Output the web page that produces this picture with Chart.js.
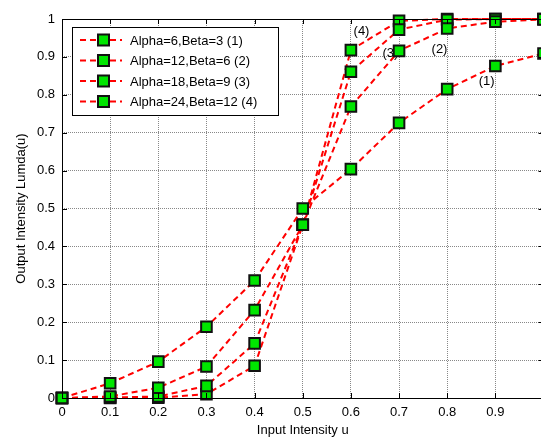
<!DOCTYPE html>
<html>
<head>
<meta charset="utf-8">
<script src="https://cdn.jsdelivr.net/npm/chart.js@4.4.0/dist/chart.umd.min.js"></script>
<style>
  html, body { margin: 0; padding: 0; background: #fff; overflow: hidden; }
  #wrap { width: 553px; height: 437px; }
</style>
</head>
<body>
<div id="wrap"><canvas id="myChart" width="553" height="437"></canvas></div>
<script>
// input intensity u
const inputU = [0, 0.1, 0.2, 0.3, 0.4, 0.5, 0.6, 0.7, 0.8, 0.9, 1.0];

// output intensity for each alpha/beta pair
const series1 = [0, 0.039, 0.096, 0.188, 0.31, 0.5, 0.604, 0.726, 0.815, 0.876, 0.909];
const series2 = [0, 0.004, 0.027, 0.083, 0.232, 0.457, 0.769, 0.916, 0.975, 0.993, 0.999];
const series3 = [0, 0.001, 0.004, 0.032, 0.144, 0.457, 0.861, 0.972, 0.998, 1.0, 1.0];
const series4 = [0, 0.0, 0.001, 0.01, 0.085, 0.457, 0.918, 0.995, 1.0, 1.0, 1.0];

const seriesNames = [
  "Alpha=6,Beta=3 (1)",
  "Alpha=12,Beta=6 (2)",
  "Alpha=18,Beta=9 (3)",
  "Alpha=24,Beta=12 (4)",
];

// curve tags "(n)" placed at data coordinates
const tagText = ["(1)", "(2)", "(3)", "(4)"];
const tagX = [0.882, 0.784, 0.682, 0.622];
const tagY = [0.834, 0.921, 0.908, 0.968];

const FONT = "'Liberation Sans', Arial, sans-serif";
const lineRed = "#ff0000";
const markGreen = "#00e600";

const toPoints = (ys) => ys.map((y, i) => ({ x: inputU[i], y: y }));

const makeSet = (name, ys) => ({
  label: name,
  data: toPoints(ys),
  borderColor: lineRed,
  borderWidth: 2,
  borderDash: [6, 4],
  backgroundColor: markGreen,
  pointStyle: "rect",
  pointRadius: 7.5,
  pointBorderWidth: 2,
  pointBorderColor: "#111",
  pointBackgroundColor: markGreen,
  tension: 0,
  clip: false,
});

// axes box, inside ticks, tags and legend
const decorPlugin = {
  id: "decor",
  beforeDatasetsDraw(chart) {
    const { ctx, scales } = chart;
    ctx.save();
    ctx.fillStyle = "#000";
    ctx.font = "13px " + FONT;
    ctx.textAlign = "center";
    ctx.textBaseline = "middle";
    tagText.forEach((t, i) => {
      ctx.fillText(t, scales.x.getPixelForValue(tagX[i]), scales.y.getPixelForValue(tagY[i]));
    });
    ctx.restore();
  },
  afterDatasetsDraw(chart) {
    const { ctx, chartArea: a, scales } = chart;
    ctx.save();
    ctx.strokeStyle = "#000";
    ctx.lineWidth = 1;
    ctx.strokeRect(a.left + 0.5, a.top + 0.5, a.right - a.left, a.bottom - a.top);
    const tl = 5;
    ctx.beginPath();
    scales.x.ticks.forEach((t) => {
      const px = Math.round(scales.x.getPixelForValue(t.value)) + 0.5;
      ctx.moveTo(px, a.bottom); ctx.lineTo(px, a.bottom - tl);
      ctx.moveTo(px, a.top); ctx.lineTo(px, a.top + tl);
    });
    scales.y.ticks.forEach((t) => {
      const py = Math.round(scales.y.getPixelForValue(t.value)) + 0.5;
      ctx.moveTo(a.left, py); ctx.lineTo(a.left + tl, py);
      ctx.moveTo(a.right, py); ctx.lineTo(a.right - tl, py);
    });
    ctx.stroke();

    // legend box
    const lx = 72, ly = 27, lw = 206, lh = 88;
    ctx.fillStyle = "#fff";
    ctx.fillRect(lx, ly, lw, lh);
    ctx.strokeRect(lx + 0.5, ly + 0.5, lw, lh);
    ctx.font = "13px " + FONT;
    ctx.textAlign = "left";
    ctx.textBaseline = "middle";
    seriesNames.forEach((name, i) => {
      const y = ly + 13 + i * 20.5;
      ctx.strokeStyle = lineRed;
      ctx.lineWidth = 2;
      ctx.setLineDash([6, 4]);
      ctx.beginPath();
      ctx.moveTo(lx + 8, y); ctx.lineTo(lx + 50, y);
      ctx.stroke();
      ctx.setLineDash([]);
      ctx.fillStyle = markGreen;
      ctx.strokeStyle = "#111";
      ctx.fillRect(lx + 26, y - 5.5, 11, 11);
      ctx.strokeRect(lx + 26, y - 5.5, 11, 11);
      ctx.fillStyle = "#000";
      ctx.fillText(name, lx + 58, y + 1);
    });
    ctx.restore();
  },
};

const fmt = (v) => String(Math.round(v * 10) / 10);

const config = {
  type: "line",
  data: {
    datasets: [
      makeSet(seriesNames[0], series1),
      makeSet(seriesNames[1], series2),
      makeSet(seriesNames[2], series3),
      makeSet(seriesNames[3], series4),
    ],
  },
  options: {
    responsive: false,
    animation: false,
    layout: { padding: { top: 19, right: 0, left: 0, bottom: 0 } },
    plugins: {
      legend: { display: false },
      tooltip: { enabled: false },
    },
    scales: {
      x: {
        type: "linear",
        min: 0,
        max: 1,
        afterFit: (scale) => { scale.height = 39; },
        ticks: {
          stepSize: 0.1,
          padding: 7,
          color: "#000",
          font: { family: FONT, size: 13 },
          maxRotation: 0,
          autoSkip: false,
          callback: (v) => (v >= 1 ? "" : fmt(v)),
        },
        grid: { color: "#888", drawTicks: false, lineWidth: 1 },
        border: { display: false, dash: [1, 1] },
        title: {
          display: true,
          text: "Input Intensity u",
          color: "#000",
          font: { family: FONT, size: 13, lineHeight: 1 },
          padding: { top: 0, bottom: 0 },
        },
      },
      y: {
        min: 0,
        max: 1,
        afterFit: (scale) => { scale.width = 62; },
        ticks: {
          stepSize: 0.1,
          padding: 7,
          color: "#000",
          font: { family: FONT, size: 13 },
          callback: (v) => fmt(v),
        },
        grid: { color: "#888", drawTicks: false, lineWidth: 1 },
        border: { display: false, dash: [1, 1] },
        title: {
          display: true,
          text: "Output Intensity Lumda(u)",
          color: "#000",
          font: { family: FONT, size: 13 },
          padding: { top: 14, bottom: 0 },
        },
      },
    },
  },
  plugins: [decorPlugin],
};

const myChart = new Chart(document.getElementById("myChart").getContext("2d"), config);
</script>
</body>
</html>
